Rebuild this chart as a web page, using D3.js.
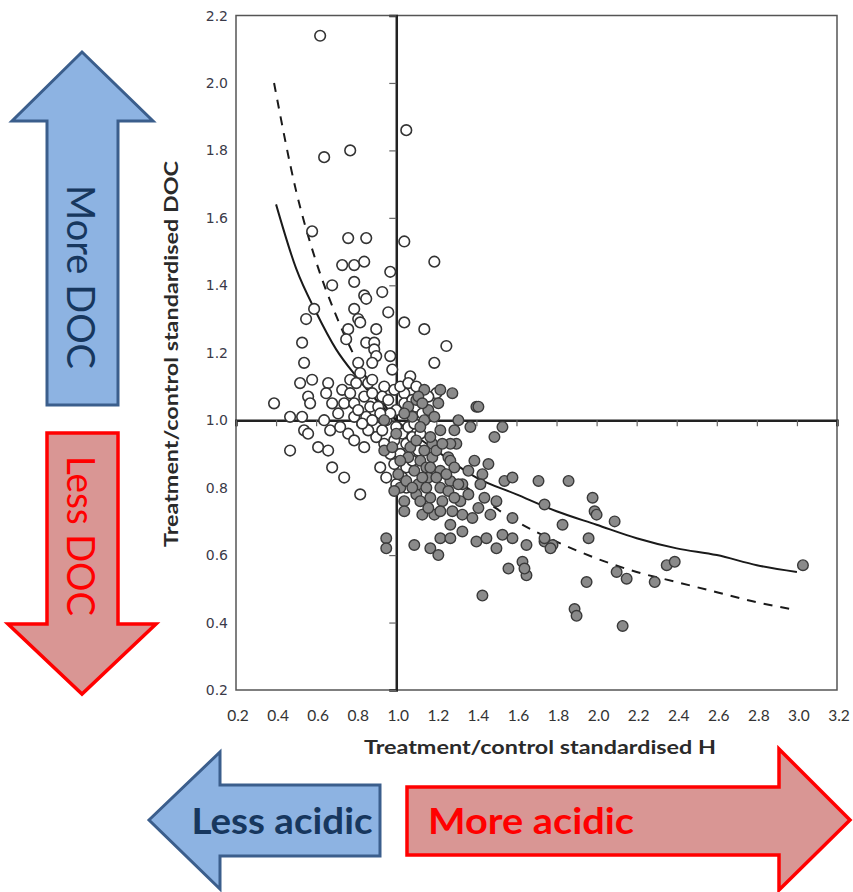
<!DOCTYPE html>
<html><head><meta charset="utf-8">
<script src="https://cdn.jsdelivr.net/npm/d3@7"></script>
<style>body{margin:0;background:#fff}svg{display:block}</style>
</head><body>
<svg id="chart" width="853" height="892"></svg>
<script>
// ---- data ----
const xTicks = [0.2,0.4,0.6,0.8,1.0,1.2,1.4,1.6,1.8,2.0,2.2,2.4,2.6,2.8,3.0,3.2];
const yTicks = [0.2,0.4,0.6,0.8,1.0,1.2,1.4,1.6,1.8,2.0,2.2];
const xTitle = "Treatment/control standardised H";
const yTitle = "Treatment/control standardised DOC";

// open (white) points: [H, DOC]
const openPoints = [
 [0.62,2.14],[1.05,1.86],[0.64,1.78],[0.77,1.80],[0.58,1.56],[0.76,1.54],[0.85,1.54],[1.04,1.53],
 [1.19,1.47],[0.73,1.46],[0.79,1.46],[0.84,1.47],[0.97,1.44],[0.79,1.41],[0.68,1.40],[0.93,1.38],
 [0.84,1.37],[0.85,1.36],[0.59,1.33],[0.79,1.33],[0.96,1.32],[1.04,1.29],[0.55,1.30],[0.81,1.30],
 [0.82,1.29],[1.14,1.27],[0.90,1.27],[0.76,1.27],[0.75,1.24],[0.53,1.23],[0.85,1.23],[0.89,1.23],
 [1.25,1.22],[0.89,1.21],[0.90,1.19],[0.88,1.17],[0.97,1.19],[0.54,1.17],[0.81,1.17],[1.19,1.17],
 [0.98,1.15],[0.52,1.11],[0.58,1.12],[0.66,1.11],[0.77,1.12],[0.73,1.09],[0.80,1.11],[0.86,1.11],
 [0.88,1.12],[0.94,1.10],[1.07,1.13],[0.99,1.09],[0.56,1.07],[0.65,1.08],[0.77,1.08],[0.84,1.07],
 [0.93,1.07],[1.04,1.08],[1.20,1.08],[0.39,1.05],[0.57,1.05],[0.68,1.05],[0.74,1.05],[0.79,1.05],
 [0.87,1.04],[0.91,1.04],[1.04,1.05],[0.47,1.01],[0.53,1.01],[0.64,1.00],[0.79,1.01],[0.85,1.01],
 [0.54,0.97],[0.56,0.96],[0.67,0.97],[0.76,0.96],[0.79,0.94],[0.84,0.92],[0.47,0.91],[0.61,0.92],
 [0.66,0.91],[0.68,0.86],[0.90,0.98],[0.90,0.95],[0.95,1.00],[0.93,0.97],[0.99,0.94],[0.92,0.86],
 [0.99,0.87],[0.82,0.78],[0.74,0.83],[0.82,1.14],[0.88,1.08],[0.96,1.06],[1.00,1.03],[1.02,1.10],
 [1.06,1.11],[1.10,1.10],[1.08,1.06],[0.97,1.02],[1.00,0.98],[1.03,0.96],[1.05,0.93],[1.02,0.90],
 [0.97,0.90],[0.94,0.93],[1.06,0.98],[1.08,0.95],[1.10,1.04],[0.92,1.02],[0.88,1.00],[0.86,0.97],
 [0.83,0.99],[0.81,1.03],[0.71,1.02],[0.72,0.98],[1.05,0.86],[1.08,0.88],[1.11,0.91],[1.13,1.02],
 [1.16,1.07],[1.03,0.83],[0.95,0.83],[1.05,0.80],[1.00,0.81],[1.09,0.99],[1.12,0.96]
];
// filled (grey) points: [H, DOC]
const filledPoints = [
 [1.14,1.09],[1.22,1.09],[1.28,1.08],[1.40,1.04],[1.41,1.04],[1.31,1.00],[1.37,0.98],[1.53,0.98],
 [1.49,0.95],[1.29,0.97],[1.30,0.93],[1.27,0.93],[1.18,0.93],[1.18,0.89],[1.26,0.89],[1.27,0.88],
 [1.39,0.88],[1.46,0.87],[1.36,0.85],[1.29,0.86],[1.43,0.84],[1.54,0.82],[1.58,0.83],[1.71,0.82],
 [1.86,0.82],[1.16,0.83],[1.27,0.82],[1.11,0.81],[1.33,0.81],[1.42,0.81],[1.22,0.80],[1.02,0.80],
 [0.99,0.79],[1.10,0.78],[1.04,0.76],[1.12,0.76],[1.17,0.77],[1.32,0.76],[1.44,0.77],[1.50,0.76],
 [1.23,0.76],[1.74,0.75],[1.04,0.73],[1.13,0.72],[1.19,0.72],[1.22,0.73],[1.33,0.72],[1.38,0.71],
 [1.58,0.71],[1.83,0.69],[1.27,0.69],[1.33,0.67],[1.22,0.65],[1.27,0.65],[1.40,0.64],[1.45,0.65],
 [1.53,0.66],[1.58,0.65],[1.74,0.64],[1.78,0.63],[1.65,0.63],[1.50,0.62],[1.09,0.63],[1.17,0.62],
 [1.21,0.60],[0.95,0.65],[0.95,0.62],[1.56,0.56],[1.63,0.58],[1.65,0.54],[1.43,0.48],[1.98,0.77],
 [1.99,0.73],[2.00,0.72],[2.09,0.70],[1.96,0.65],[1.95,0.52],[2.10,0.55],[2.15,0.53],[2.29,0.52],
 [2.35,0.57],[2.39,0.58],[3.03,0.57],[1.89,0.44],[1.90,0.42],[2.13,0.39],[1.74,0.65],[1.77,0.62],
 [1.64,0.56],[0.94,1.00],[0.94,0.91],[1.10,1.06],[1.16,1.03],[1.11,1.07],[1.06,1.04],[1.08,1.01],
 [1.14,1.00],[1.19,1.01],[1.12,0.98],[1.17,0.95],[1.22,0.97],[1.07,0.92],[1.10,0.94],[1.14,0.91],
 [1.20,0.91],[1.06,0.89],[1.12,0.88],[1.09,0.85],[1.15,0.86],[1.17,0.86],[1.22,0.85],[1.13,0.83],
 [1.20,0.83],[1.01,0.84],[1.05,0.82],[1.08,0.80],[1.15,0.80],[1.31,0.81],[1.26,0.79],[1.36,0.78],
 [1.29,0.77],[1.16,0.74],[1.28,0.73],[1.47,0.72],[1.41,0.74],[1.00,0.96],[1.04,1.02],[1.21,1.05],
 [1.13,1.05],[1.23,0.93],[1.02,0.88],[0.98,0.92],[1.25,0.84]
];
// fitted curves
const solidCurveH   = [0.40,0.50,0.60,0.70,0.80,0.90,1.00,1.20,1.40,1.60,1.80,2.00,2.20,2.40,2.60,2.80,3.00];
const solidCurveDOC = [1.64,1.45,1.32,1.21,1.13,1.06,1.00,0.91,0.83,0.78,0.73,0.69,0.65,0.62,0.60,0.57,0.55];
const dashCurveH    = [0.39,0.50,0.60,0.70,0.80,0.90,1.00,1.20,1.40,1.60,1.80,2.00,2.20,2.40,2.60,2.80,2.97];
const dashCurveDOC  = [2.00,1.68,1.47,1.31,1.18,1.08,1.00,0.87,0.78,0.70,0.64,0.59,0.55,0.52,0.49,0.46,0.44];

// ---- drawing ----
const svg = d3.select("#chart");
const x = d3.scaleLinear().domain([0.2,3.2]).range([236,837]);
const y = d3.scaleLinear().domain([0.2,2.2]).range([690,15.5]);

// frame
svg.append("rect").attr("x",x(0.2)).attr("y",y(2.2))
  .attr("width",x(3.2)-x(0.2)).attr("height",y(0.2)-y(2.2))
  .attr("fill","none").attr("stroke","#555").attr("stroke-width",1.5);

// crosshair axes with ticks
const xAxis = d3.axisBottom(x).tickValues(xTicks).tickSize(6).tickFormat("");
const gx = svg.append("g").attr("transform",`translate(0,${y(1.0)})`).call(xAxis);
gx.select(".domain").attr("stroke","#222").attr("stroke-width",2.5);
gx.selectAll(".tick line").attr("stroke","#666").attr("stroke-width",1.2);

const yAxis = d3.axisLeft(y).tickValues(yTicks).tickSize(7).tickFormat("");
const gy = svg.append("g").attr("transform",`translate(${x(1.0)},0)`).call(yAxis);
gy.select(".domain").attr("stroke","#222").attr("stroke-width",2.5);
gy.selectAll(".tick line").attr("stroke","#666").attr("stroke-width",1.2);

// tick labels
svg.append("g").selectAll("text").data(xTicks).join("text")
  .attr("x",d=>x(d)+2).attr("y",721)
  .attr("text-anchor","middle")
  .attr("font-family","Lato, 'Open Sans', sans-serif").attr("font-size",15.5)
  .attr("fill","#333").text(d=>d.toFixed(1));
svg.append("g").selectAll("text").data(yTicks).join("text")
  .attr("x",228).attr("y",d=>y(d)+5)
  .attr("text-anchor","end")
  .attr("font-family","'DejaVu Sans', sans-serif").attr("font-size",14)
  .attr("fill","#3a3a48").text(d=>d.toFixed(1));

// axis titles
svg.append("text").attr("x",540).attr("y",754).attr("text-anchor","middle")
  .attr("font-family","Lato, sans-serif").attr("font-weight","bold").attr("font-size",18)
  .attr("fill","#2a2a2a").attr("textLength",352).attr("lengthAdjust","spacingAndGlyphs").text(xTitle);
svg.append("text").attr("transform","translate(178,354) rotate(-90)").attr("text-anchor","middle")
  .attr("font-family","Lato, sans-serif").attr("font-weight","bold").attr("font-size",18)
  .attr("fill","#2a2a2a").attr("textLength",386).attr("lengthAdjust","spacingAndGlyphs").text(yTitle);

// curves
const line = d3.line().x(d=>x(d[0])).y(d=>y(d[1])).curve(d3.curveMonotoneX);
svg.append("path").datum(solidCurveH.map((h,i)=>[h,solidCurveDOC[i]]))
  .attr("d",line).attr("fill","none").attr("stroke","#1a1a1a").attr("stroke-width",2);
svg.append("path").datum(dashCurveH.map((h,i)=>[h,dashCurveDOC[i]]))
  .attr("d",line).attr("fill","none").attr("stroke","#1a1a1a").attr("stroke-width",2)
  .attr("stroke-dasharray","9,8");

// points
svg.append("g").selectAll("circle").data(openPoints).join("circle")
  .attr("cx",d=>x(d[0])).attr("cy",d=>y(d[1])).attr("r",5.3)
  .attr("fill","#fff").attr("stroke","#333").attr("stroke-width",1.6);
svg.append("g").selectAll("circle").data(filledPoints).join("circle")
  .attr("cx",d=>x(d[0])).attr("cy",d=>y(d[1])).attr("r",5.3)
  .attr("fill","#8a8a8a").attr("stroke","#3a3a3a").attr("stroke-width",1.4);

// side arrows
const blueFill="#8db3e2", blueStroke="#3b5e8c", blueText="#17375e";
const redFill="#d99694", redStroke="#ff0000", redText="#ff0000";
const poly = pts => "M"+pts.map(p=>p.join(",")).join("L")+"Z";

svg.append("path").attr("d",poly([[82,52],[153,121],[118,121],[118,405],[47,405],[47,121],[12,121]]))
  .attr("fill",blueFill).attr("stroke",blueStroke).attr("stroke-width",3).attr("stroke-linejoin","miter");
svg.append("path").attr("d",poly([[47,433],[118,433],[118,624],[156,624],[82,694],[8,624],[47,624]]))
  .attr("fill",redFill).attr("stroke",redStroke).attr("stroke-width",3.5);
svg.append("path").attr("d",poly([[149,820],[220,752],[220,785],[380,785],[380,856],[220,856],[220,889]]))
  .attr("fill",blueFill).attr("stroke",blueStroke).attr("stroke-width",3);
svg.append("path").attr("d",poly([[407,787],[779,787],[779,749],[850,820],[779,890],[779,855],[407,855]]))
  .attr("fill",redFill).attr("stroke",redStroke).attr("stroke-width",3.5);

const arrowFont = "Lato, 'Open Sans', sans-serif";
svg.append("text").attr("transform","translate(82,277) rotate(90)")
  .attr("text-anchor","middle").attr("dominant-baseline","central")
  .attr("font-family",arrowFont).attr("font-size",38).attr("fill",blueText)
  .attr("textLength",184).attr("lengthAdjust","spacingAndGlyphs").text("More DOC");
svg.append("text").attr("transform","translate(82,536) rotate(90)")
  .attr("text-anchor","middle").attr("dominant-baseline","central")
  .attr("font-family",arrowFont).attr("font-size",38).attr("fill",redText)
  .attr("textLength",160).attr("lengthAdjust","spacingAndGlyphs").text("Less DOC");
svg.append("text").attr("x",282).attr("y",820)
  .attr("text-anchor","middle").attr("dominant-baseline","central")
  .attr("font-family",arrowFont).attr("font-weight","bold").attr("font-size",36).attr("fill",blueText)
  .attr("textLength",181).attr("lengthAdjust","spacingAndGlyphs").text("Less acidic");
svg.append("text").attr("x",531).attr("y",820)
  .attr("text-anchor","middle").attr("dominant-baseline","central")
  .attr("font-family",arrowFont).attr("font-weight","bold").attr("font-size",36).attr("fill",redText)
  .attr("textLength",206).attr("lengthAdjust","spacingAndGlyphs").text("More acidic");
</script>
</body></html>
